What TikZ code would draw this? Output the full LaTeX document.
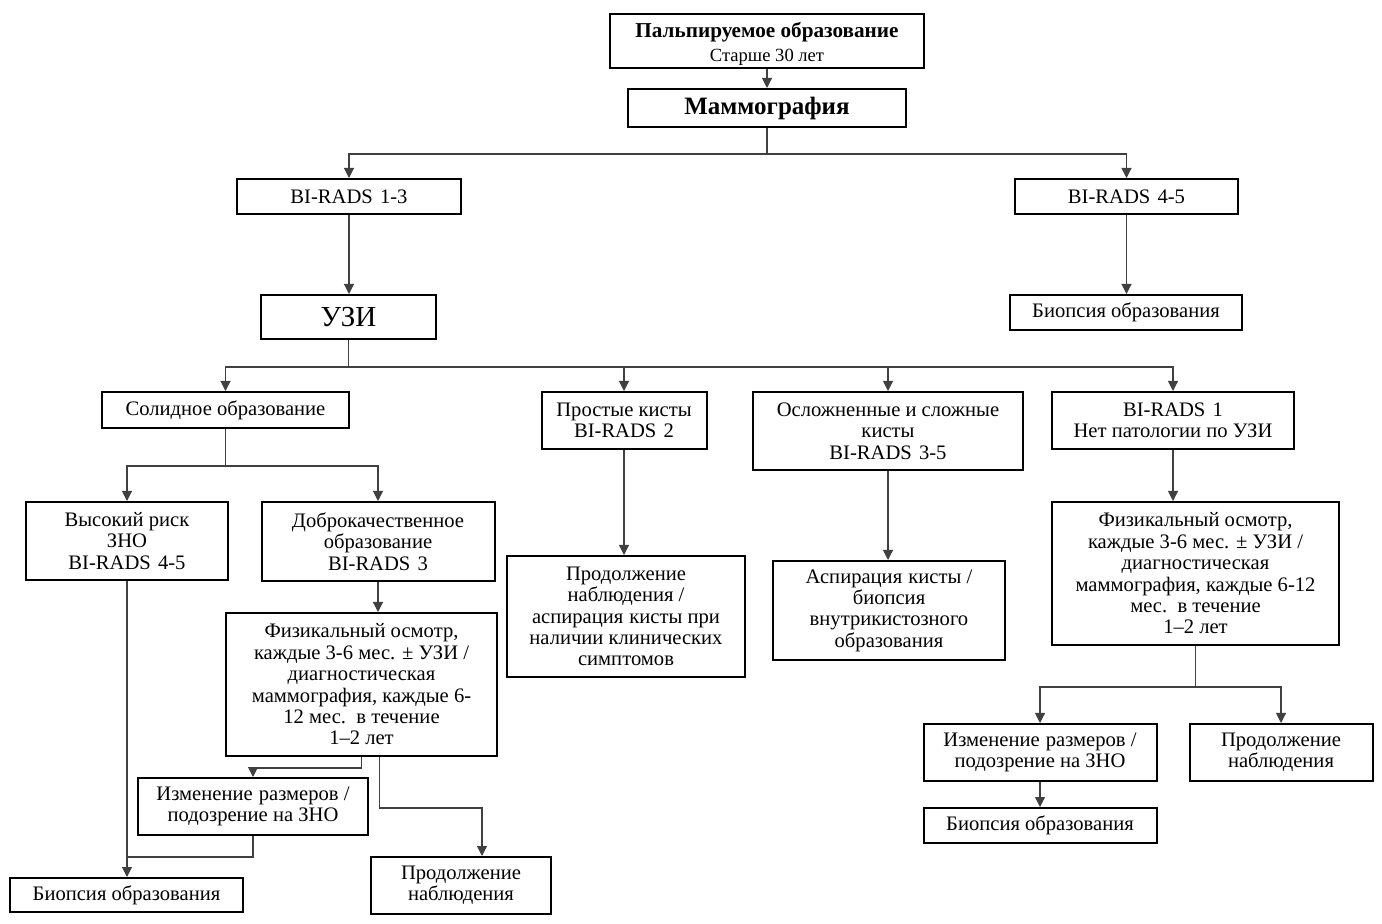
\documentclass[tikz,border=0pt]{standalone}
\usepackage{fontspec}
\setmainfont{Liberation Serif}
\usetikzlibrary{arrows.meta}
\tikzset{
  box/.style={draw=black, line width=1pt, fill=white, align=center, inner sep=0pt,
    font=\fontsize{10.3}{10.7}\selectfont},
  conn/.style={draw=black!75, line width=0.55pt},
  arr/.style={conn, -{Triangle[width=5pt,length=5pt]}},
}
\newcommand{\bx}[6]{% name, cx, cy, w(pt), h(pt), text
  \node[box, minimum width=#4pt, minimum height=#5pt] (#1) at (#2,#3) {#6};}
\begin{document}
\begin{tikzpicture}[x=0.5pt, y=-0.5pt]
\useasboundingbox (0,0) rectangle (1382,924);
\bx{top}{767}{41}{157}{27}{}
\node[align=center, inner sep=0pt] (toptext) at ([yshift=-1.5pt]top.center)
  {{\fontsize{10.6}{10.5}\selectfont\bfseries Пальпируемое образование}\\[0pt]{\fontsize{9.3}{10.5}\selectfont Старше 30 лет}};
\bx{mammo}{767}{108}{139}{19}{\fontsize{12.5}{14}\selectfont\bfseries Маммография}
\bx{brA}{349}{196.5}{112}{17.5}{BI-RADS\hspace{0.35em}1-3}
\bx{brB}{1126.5}{196.5}{111.5}{17.5}{BI-RADS\hspace{0.35em}4-5}
\bx{uzi}{348.5}{317}{87.5}{22}{\fontsize{14.5}{16}\selectfont УЗИ}
\bx{bioA}{1126}{312.5}{116}{17.5}{Биопсия образования}
\bx{solid}{225.5}{410}{123.5}{18}{Солидное образование}
\bx{simple}{624}{420.5}{82.5}{28.5}{Простые кисты\\BI-RADS\hspace{0.35em}2}
\bx{compl}{888}{431}{135}{39}{Осложненные и сложные\\кисты\\BI-RADS\hspace{0.35em}3-5}
\bx{brC}{1173}{420.5}{121}{28.5}{BI-RADS\hspace{0.35em}1\\Нет патологии по УЗИ}
\bx{high}{127}{541}{101}{39}{Высокий риск\\ЗНО\\BI-RADS\hspace{0.35em}4-5}
\bx{benign}{378}{541.5}{116.5}{39.5}{Доброкачественное\\образование\\BI-RADS\hspace{0.35em}3}
\bx{physA}{361.5}{684.5}{135.5}{71.5}{Физикальный осмотр,\\каждые 3-6 мес. ± УЗИ /\\диагностическая\\маммография, каждые 6-\\12 мес.\ \ в течение\\1–2 лет}
\bx{chgA}{253}{806.5}{115}{28.5}{Изменение\hspace{0.3em}размеров /\\подозрение на ЗНО}
\bx{contA}{461}{885.5}{90}{28.5}{Продолжение\\наблюдения}
\bx{bioB}{126.5}{895}{116.5}{17}{Биопсия образования}
\bx{contB}{626}{616.5}{119}{60.5}{Продолжение\\наблюдения /\\аспирация\hspace{0.3em}кисты при\\наличии клинических\\симптомов}
\bx{asp}{889}{610.5}{116}{49.5}{Аспирация\hspace{0.3em}кисты /\\биопсия\\внутрикистозного\\образования}
\bx{physB}{1195.5}{573.5}{143.5}{71.5}{Физикальный осмотр,\\каждые 3-6 мес. ± УЗИ /\\диагностическая\\маммография, каждые 6-12\\мес.\ \ в течение\\1–2 лет}
\bx{chgB}{1040}{752.5}{116.5}{28.5}{Изменение\hspace{0.3em}размеров /\\подозрение на ЗНО}
\bx{contC}{1281}{752.5}{91.5}{28.5}{Продолжение\\наблюдения}
\bx{bioC}{1040}{825.5}{116.5}{17.5}{Биопсия образования}
\coordinate (jn) at (127,857);
% connectors
\draw[arr] (top) -- (mammo);
\draw[arr] (mammo.south) -- ++(0,26) -| (brA.north);
\draw[arr] (mammo.south) -- ++(0,26) -| (brB.north);
\draw[arr] (brA) -- (brA.south |- uzi.north);
\draw[arr] (brB) -- (brB.south |- bioA.north);
\draw[arr] (uzi.south) -- ++(0,27) -| (solid.north);
\draw[arr] (uzi.south) -- ++(0,27) -| (simple.north);
\draw[arr] (uzi.south) -- ++(0,27) -| (compl.north);
\draw[arr] (uzi.south) -- ++(0,27) -| (brC.north);
\draw[arr] (solid.south) -- ++(0,37) -| (high.north);
\draw[arr] (solid.south) -- ++(0,37) -| (benign.north);
\draw[arr] (simple) -- (simple.south |- contB.north);
\draw[arr] (compl) -- (compl.south |- asp.north);
\draw[arr] (brC) -- (brC.south |- physB.north);
\draw[arr] (high) -- (high.south |- bioB.north);
\draw[arr] (benign) -- (benign.south |- physA.north);
\draw[arr] (physA.south) -- ++(0,11) -| (chgA.north);
\draw[arr] ([xshift=9pt]physA.south) |- ([xshift=10.5pt]contA.north |- 0,808) -- ([xshift=10.5pt]contA.north);
\draw[conn] (chgA.south) |- (jn);
\draw[arr] (physB.south) -- ++(0,41) -| (chgB.north);
\draw[arr] (physB.south) -- ++(0,41) -| (contC.north);
\draw[arr] (chgB) -- (chgB.south |- bioC.north);
\end{tikzpicture}
\end{document}
